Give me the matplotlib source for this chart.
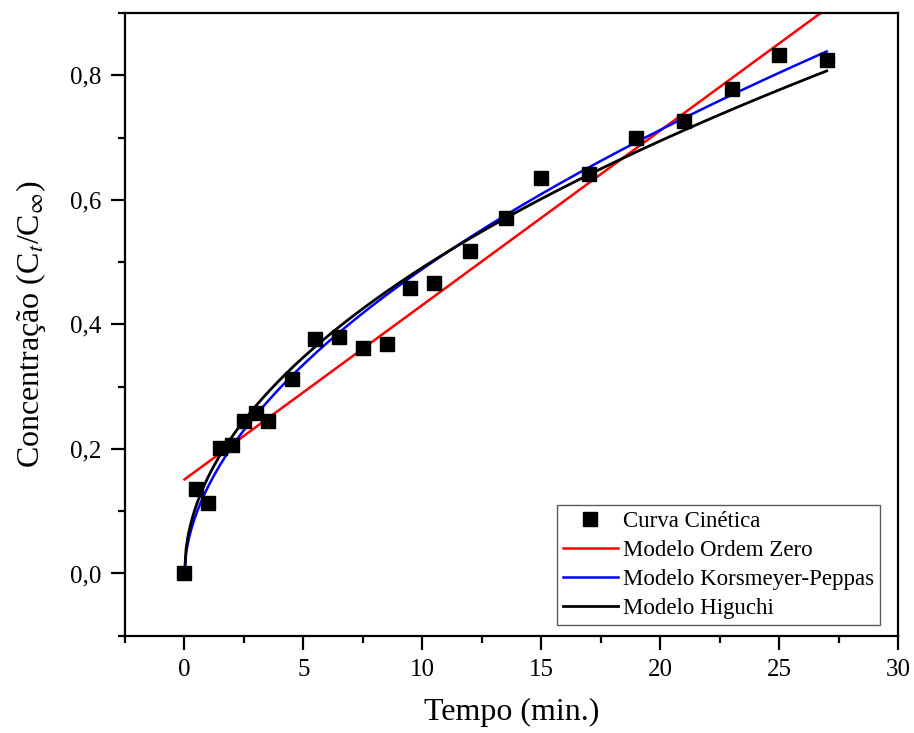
import numpy as np
import matplotlib
matplotlib.use("Agg")
import matplotlib.pyplot as plt
from matplotlib.ticker import MultipleLocator, FuncFormatter

plt.rcParams['font.family'] = ['Liberation Serif', 'DejaVu Serif']
plt.rcParams['mathtext.fontset'] = 'stix'

# Release kinetics: time (min) and normalised concentration Ct/Cinf
tempo = [0, 0.5, 1.0, 1.5, 2.0, 2.5, 3.0, 3.5, 4.5, 5.5, 6.5, 7.5, 8.5,
         9.5, 10.5, 12, 13.5, 15, 17, 19, 21, 23, 25, 27]
concentracao = [0.0, 0.135, 0.113, 0.202, 0.206, 0.245, 0.258, 0.245, 0.313,
                0.376, 0.379, 0.362, 0.368, 0.458, 0.466, 0.517, 0.570,
                0.635, 0.642, 0.699, 0.727, 0.778, 0.833, 0.825]

# Fitted model parameters
ordem_zero_c0, ordem_zero_k = 0.151, 0.0280     # C = c0 + k t
kp_k, kp_n = 0.140, 0.543                        # C = k t^n
higuchi_k = 0.1553                               # C = k sqrt(t)

t = np.linspace(0, 27, 400)
y_oz = ordem_zero_c0 + ordem_zero_k * t
y_kp = kp_k * t ** kp_n
y_hi = higuchi_k * np.sqrt(t)

fig = plt.figure(figsize=(9.14, 7.33), dpi=100)
ax = fig.add_axes([0.1368, 0.1327, 0.8457, 0.8496])

ax.plot(tempo, concentracao, 's', color='black', markersize=9.5,
        label='Curva Cinética', zorder=5)
ax.plot(t, y_oz, color='#ff0000', lw=1.8, label='Modelo Ordem Zero')
ax.plot(t, y_kp, color='#0000ff', lw=1.8, label='Modelo Korsmeyer-Peppas')
ax.plot(t, y_hi, color='black', lw=2.0, label='Modelo Higuchi')

ax.set_xlim(-2.5, 30)
ax.set_ylim(-0.1, 0.9)
ax.xaxis.set_major_locator(MultipleLocator(5))
ax.xaxis.set_minor_locator(MultipleLocator(2.5))
ax.yaxis.set_major_locator(MultipleLocator(0.2))
ax.yaxis.set_minor_locator(MultipleLocator(0.1))
ax.yaxis.set_major_formatter(FuncFormatter(lambda v, p: f"{v:.1f}".replace('.', ',')))
ax.xaxis.set_major_formatter(FuncFormatter(lambda v, p: f"{v:g}"))

for s in ax.spines.values():
    s.set_linewidth(1.6)
ax.tick_params(which='major', direction='out', length=10, width=1.6,
               labelsize=18, pad=7)
ax.tick_params(which='minor', direction='out', length=5, width=1.6)

ax.set_xlabel('Tempo (min.)', fontsize=23, labelpad=12)
ax.set_ylabel(r'Concentração (C$_t$/C$_\infty$)', fontsize=23, labelpad=16)

leg = ax.legend(loc='lower right', bbox_to_anchor=(0.9765, 0.017),
                fontsize=16.5, frameon=True, fancybox=False,
                edgecolor='#333333', handlelength=2.4, handletextpad=0.22,
                borderpad=0.25, labelspacing=0.36, borderaxespad=0)
leg.get_frame().set_linewidth(1.0)

fig.savefig('out.png', dpi=100)
